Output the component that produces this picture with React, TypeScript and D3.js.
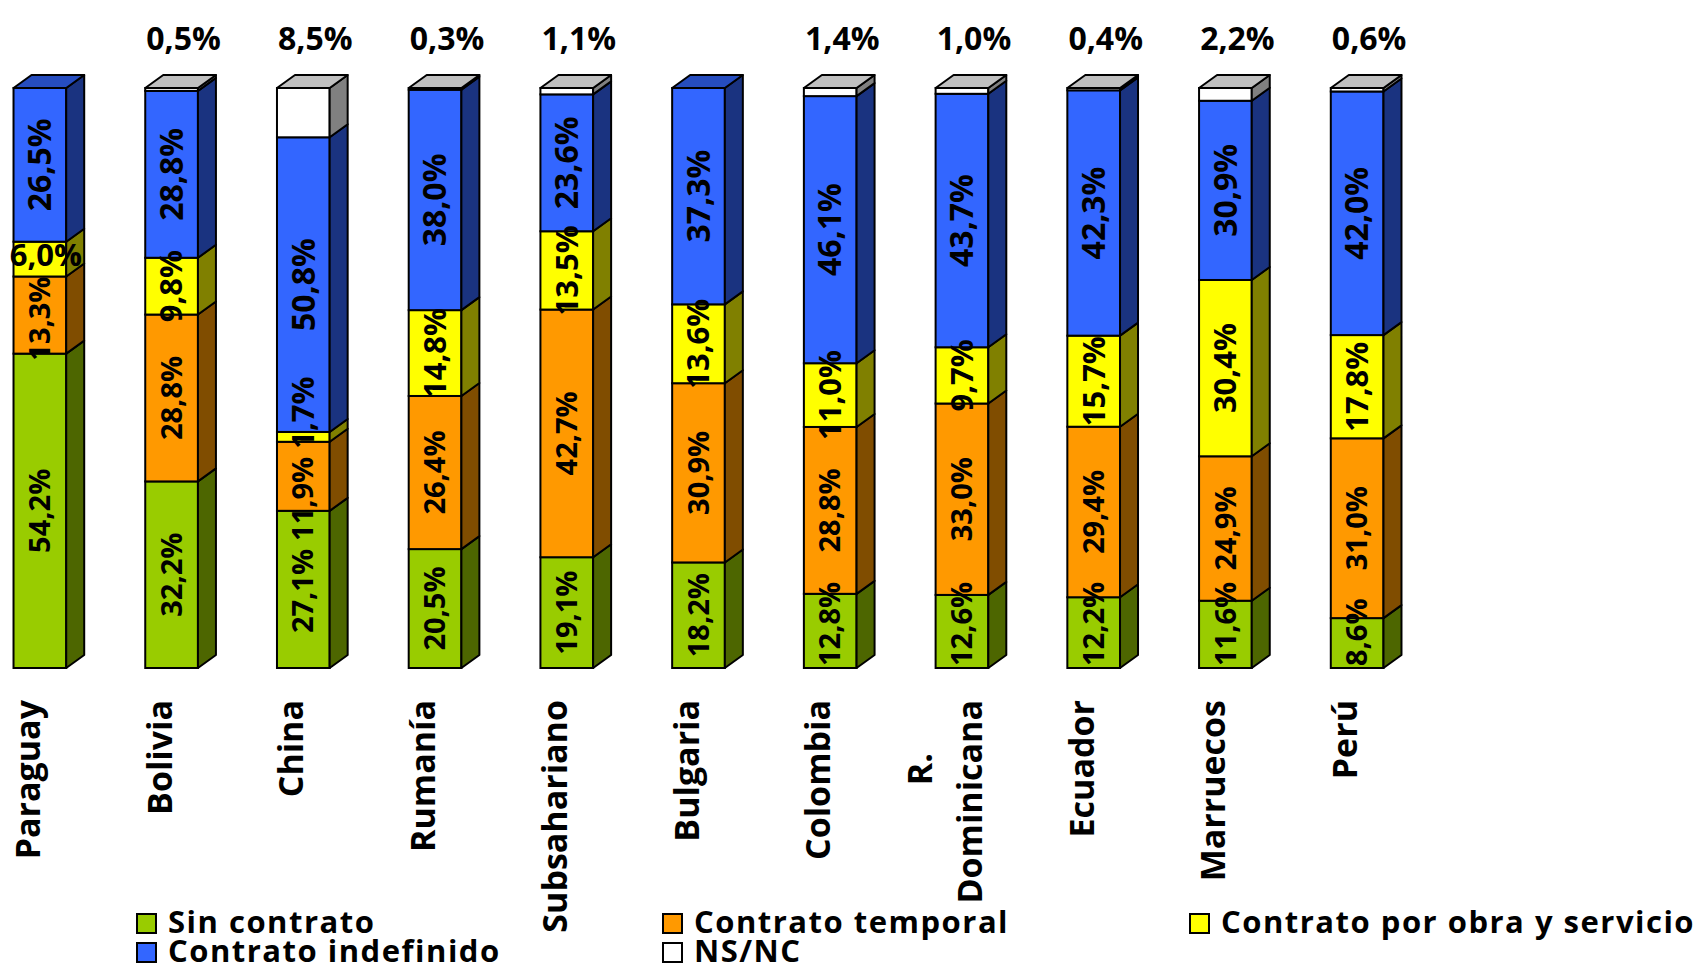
import React from 'react';
import * as d3 from 'd3';

// ---------- data ----------
const countries = ['Paraguay', 'Bolivia', 'China', 'Rumanía', 'Subsahariano', 'Bulgaria', 'Colombia', 'R. Dominicana', 'Ecuador', 'Marruecos', 'Perú'];
const sinContrato = [54.2, 32.2, 27.1, 20.5, 19.1, 18.2, 12.8, 12.6, 12.2, 11.6, 8.6];
const contratoTemporal = [13.3, 28.8, 11.9, 26.4, 42.7, 30.9, 28.8, 33.0, 29.4, 24.9, 31.0];
const contratoObra = [6.0, 9.8, 1.7, 14.8, 13.5, 13.6, 11.0, 9.7, 15.7, 30.4, 17.8];
const contratoIndefinido = [26.5, 28.8, 50.8, 38.0, 23.6, 37.3, 46.1, 43.7, 42.3, 30.9, 42.0];
const nsnc = [0, 0.5, 8.5, 0.3, 1.1, 0, 1.4, 1.0, 0.4, 2.2, 0.6];
const seriesNames = ['Sin contrato', 'Contrato temporal', 'Contrato por obra y servicio', 'Contrato indefinido', 'NS/NC'];

// ---------- styles ----------
const frontColors = ['#99CC00', '#FF9900', '#FFFF00', '#3366FF', '#FFFFFF'];
const sideColors = ['#4D6600', '#804D00', '#808000', '#1A3380', '#808080'];
const topColors = ['#73990F', '#BF7300', '#BFBF00', '#264DBF', '#C0C0C0'];
const labelSizes = [29, 29, 31, 32];
const horizontalLabels = new Set(['Paraguay|2']);

const W = 1699;
const H = 971;
const DX = 18;
const DY = 13;
const FONT = "'Open Sans', 'DejaVu Sans', sans-serif";
const TOP_SIZE = 32;
const CAT_SIZE = 34;
const LEG_SIZE = 31;

let ctx: CanvasRenderingContext2D | null = null;
function measure(text: string, size: number): number {
  if (!ctx) ctx = document.createElement('canvas').getContext('2d');
  if (!ctx) return text.length * size * 0.57;
  ctx.font = `bold ${size}px 'Open Sans', 'DejaVu Sans', sans-serif`;
  return ctx.measureText(text).width;
}
const fmt = (v: number) => v.toFixed(1).replace('.', ',') + '%';

export default function App() {
  const keys = ['s0', 's1', 's2', 's3', 's4'];
  const rows = countries.map((c, i) => ({
    country: c,
    s0: sinContrato[i],
    s1: contratoTemporal[i],
    s2: contratoObra[i],
    s3: contratoIndefinido[i],
    s4: nsnc[i],
  }));
  const stacked = d3.stack<any>().keys(keys).offset(d3.stackOffsetExpand)(rows);

  const x = d3.scaleBand<string>().domain(countries).range([-26, 1423]).paddingInner(0.6).paddingOuter(0.3);
  const y = d3.scaleLinear().domain([0, 1]).range([668, 88]);
  const bw = x.bandwidth();

  const bars: React.ReactNode[] = [];
  const labels: React.ReactNode[] = [];

  countries.forEach((c, i) => {
    const xl = x(c)!;
    const xr = xl + bw;
    const cx = xl + bw / 2;
    const parts: React.ReactNode[] = [];
    let topIdx = -1;
    stacked.forEach((s, k) => {
      const [a, b] = s[i];
      if (b - a <= 0) return;
      topIdx = k;
      const y0 = y(a);
      const y1 = y(b);
      parts.push(
        <rect key={'f' + k} x={xl} y={y1} width={bw} height={y0 - y1} fill={frontColors[k]} stroke="#000" strokeWidth={2} />
      );
      parts.push(
        <path key={'s' + k}
          d={`M${xr},${y0} L${xr + DX},${y0 - DY} L${xr + DX},${y1 - DY} L${xr},${y1} Z`}
          fill={sideColors[k]} stroke="#000" strokeWidth={2} strokeLinejoin="round" />
      );
    });
    const yt = y(1);
    parts.push(
      <path key="top"
        d={`M${xl},${yt} L${xl + DX},${yt - DY} L${xr + DX},${yt - DY} L${xr},${yt} Z`}
        fill={topColors[topIdx]} stroke="#000" strokeWidth={2} strokeLinejoin="round" />
    );
    bars.push(<g key={c}>{parts}</g>);

    // in-bar labels with simple collision avoidance
    const items: { k: number; text: string; c: number; h: number; horiz: boolean; size: number }[] = [];
    for (let k = 0; k < 4; k++) {
      const v = [sinContrato, contratoTemporal, contratoObra, contratoIndefinido][k][i];
      const [a, b] = stacked[k][i];
      const horiz = horizontalLabels.has(c + '|' + k);
      const text = fmt(v);
      const size = labelSizes[k];
      const len = measure(text, size);
      items.push({ k, text, c: (y(a) + y(b)) / 2, h: horiz ? 13 : len / 2, horiz, size });
    }
    const gap = 8;
    const bottomLimit = 666;
    for (let it = 0; it < 60; it++) {
      if (items[0].c + items[0].h > bottomLimit) items[0].c = bottomLimit - items[0].h;
      for (let j = 0; j < items.length - 1; j++) {
        const lo = items[j];
        const hi = items[j + 1];
        const need = lo.h + hi.h + gap;
        const d = need - (lo.c - hi.c);
        if (d > 0) {
          lo.c += d / 2;
          hi.c -= d / 2;
        }
      }
    }
    items.forEach((it) => {
      if (it.horiz) {
        labels.push(
          <text key={c + it.k} x={cx + 6} y={it.c} dy="0.35em" textAnchor="middle"
            fontFamily={FONT} fontWeight="bold" fontSize={it.size} fill="#000">{it.text}</text>
        );
      } else {
        labels.push(
          <text key={c + it.k} transform={`translate(${cx},${it.c}) rotate(-90)`} dy="0.35em" textAnchor="middle"
            fontFamily={FONT} fontWeight="bold" fontSize={it.size} fill="#000">{it.text}</text>
        );
      }
    });

    // NS/NC label above bar
    if (nsnc[i] > 0) {
      labels.push(
        <text key={c + 'ns'} x={cx + 12} y={50} textAnchor="middle"
          fontFamily={FONT} fontWeight="bold" fontSize={TOP_SIZE} fill="#000">{fmt(nsnc[i])}</text>
      );
    }

    // category label
    const lines = c.split(' ');
    if (lines.length === 1) {
      labels.push(
        <text key={c + 'cat'} transform={`translate(${cx},700) rotate(-90)`} textAnchor="end"
          fontFamily={FONT} fontWeight="bold" fontSize={CAT_SIZE} fill="#000">{c}</text>
      );
    } else {
      const lens = lines.map((l) => measure(l, CAT_SIZE));
      const maxLen = Math.max(...lens);
      lines.forEach((l, li) => {
        const bx = cx + (li - (lines.length - 1) / 2) * 50 - 5;
        const isLong = lens[li] === maxLen;
        labels.push(
          <text key={c + 'cat' + li}
            transform={`translate(${bx},${isLong ? 700 : 700 + maxLen * 0.34}) rotate(-90)`}
            textAnchor={isLong ? 'end' : 'middle'}
            fontFamily={FONT} fontWeight="bold" fontSize={CAT_SIZE} fill="#000">{l}</text>
        );
      });
    }
  });

  // legend
  const legCols = [137, 663, 1190];
  const legRows = [914, 943];
  const legend = seriesNames.map((name, k) => {
    const lx = legCols[k % 3];
    const ly = legRows[Math.floor(k / 3)];
    return (
      <g key={name}>
        <rect x={lx} y={ly} width={19} height={19} fill={frontColors[k]} stroke="#000" strokeWidth={2} />
        <text x={lx + 31} y={ly + 19} fontFamily={FONT} fontWeight="bold" fontSize={LEG_SIZE}
          letterSpacing={1.5} fill="#000">{name}</text>
      </g>
    );
  });

  return (
    <svg width={W} height={H} style={{ position: 'absolute', left: 0, top: 0, display: 'block', background: '#fff' }}>
      <rect x={0} y={0} width={W} height={H} fill="#fff" />
      {bars}
      {labels}
      {legend}
    </svg>
  );
}
